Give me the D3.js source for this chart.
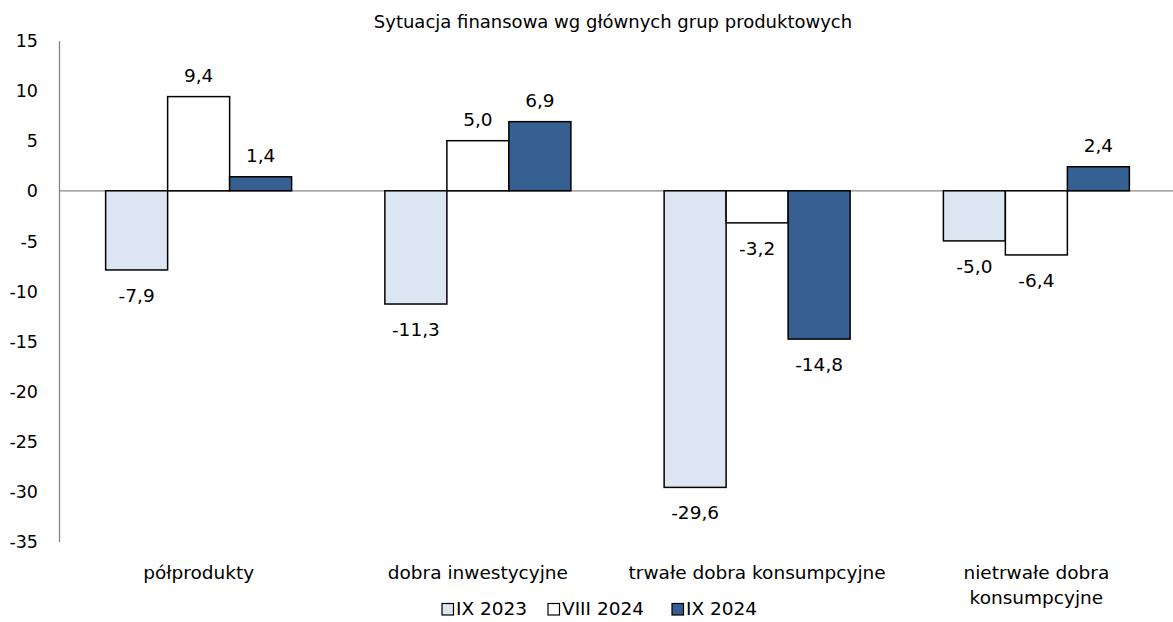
<!DOCTYPE html>
<html>
<head>
<meta charset="utf-8">
<script src="https://cdn.jsdelivr.net/npm/d3@7"></script>
<style>
  html, body { margin: 0; padding: 0; background: #fff; }
  svg text { font-family: "DejaVu Sans", sans-serif; fill: #000; }
</style>
</head>
<body>
<svg id="chart" width="1173" height="622"></svg>
<script>
// Saldo ocen sytuacji finansowej wg głównych grup produktowych
const categories = ["półprodukty", "dobra inwestycyjne", "trwałe dobra konsumpcyjne", "nietrwałe dobra konsumpcyjne"];
const categoryLines = [["półprodukty"], ["dobra inwestycyjne"], ["trwałe dobra konsumpcyjne"], ["nietrwałe dobra", "konsumpcyjne"]];
const seriesNames = ["IX 2023", "VIII 2024", "IX 2024"];
const ix2023 = [-7.9, -11.3, -29.6, -5.0];
const viii2024 = [9.4, 5.0, -3.2, -6.4];
const ix2024 = [1.4, 6.9, -14.8, 2.4];
const yTicks = [15, 10, 5, 0, -5, -10, -15, -20, -25, -30, -35];
const seriesColors = ["#dce6f2", "#ffffff", "#376092"];

const seriesValues = [ix2023, viii2024, ix2024];
const svg = d3.select("#chart");
const FS = "18.5px";

const x0 = d3.scaleBand().domain(categories).range([59, 1176]).paddingInner(0.334).paddingOuter(0.167);
const x1 = d3.scaleBand().domain(seriesNames).range([0, x0.bandwidth()]);
const y = d3.scaleLinear().domain([-35, 15]).range([541.5, 40.5]);

const fmt = v => d3.format(".1f")(v).replace(".", ",").replace("−", "-");

// title
svg.append("text").attr("x", 613).attr("y", 28).attr("text-anchor", "middle")
  .style("font-size", "18px").text("Sytuacja finansowa wg głównych grup produktowych");

// y axis
const yAxis = d3.axisLeft(y).tickValues(yTicks).tickSize(0).tickPadding(0)
  .tickFormat(d => d3.format("d")(d).replace("−", "-"));
const gy = svg.append("g").attr("transform", "translate(59,0)").call(yAxis);
gy.select(".domain").attr("stroke", "#868686").attr("stroke-width", 1.3);
gy.selectAll(".tick text").attr("x", -21).attr("text-anchor", "end").attr("dy", "0.35em")
  .style("font-size", "17.5px");

// zero line
svg.append("line").attr("x1", 59).attr("x2", 1173).attr("y1", y(0)).attr("y2", y(0))
  .attr("stroke", "#868686").attr("stroke-width", 1.3);

// bars and value labels
seriesNames.forEach((name, si) => {
  const g = svg.append("g");
  g.selectAll("rect").data(seriesValues[si]).join("rect")
    .attr("x", (d, i) => x0(categories[i]) + x1(name))
    .attr("width", x1.bandwidth())
    .attr("y", d => y(Math.max(0, d)))
    .attr("height", d => Math.abs(y(d) - y(0)))
    .attr("fill", seriesColors[si])
    .attr("stroke", "#000").attr("stroke-width", 1.5);
  g.selectAll("text").data(seriesValues[si]).join("text")
    .attr("x", (d, i) => x0(categories[i]) + x1(name) + x1.bandwidth() / 2)
    .attr("y", d => d >= 0 ? y(d) - 15 : y(d) + 32)
    .attr("text-anchor", "middle")
    .style("font-size", FS)
    .text(d => fmt(d));
});

// category labels
categoryLines.forEach((lines, i) => {
  const cx = x0(categories[i]) + x0.bandwidth() / 2;
  lines.forEach((line, li) => {
    svg.append("text").attr("x", cx).attr("y", 579 + li * 25).attr("text-anchor", "middle")
      .style("font-size", FS).text(line);
  });
});

// legend
const legendX = [442, 548, 672];
seriesNames.forEach((name, si) => {
  const lx = legendX[si];
  svg.append("rect").attr("x", lx).attr("y", 603.5).attr("width", 11.5).attr("height", 11.5)
    .attr("fill", seriesColors[si]).attr("stroke", "#000").attr("stroke-width", 1.2);
  svg.append("text").attr("x", lx + 14).attr("y", 615).style("font-size", FS).text(name);
});
</script>
</body>
</html>
